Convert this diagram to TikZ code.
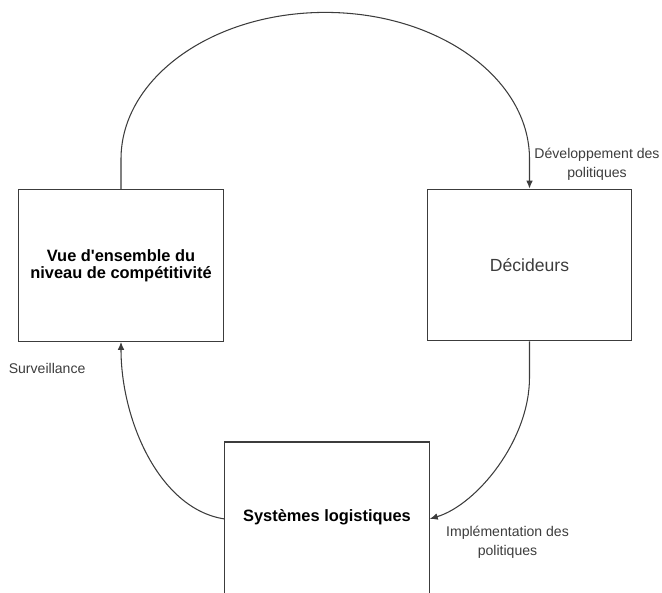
\documentclass[tikz,border=0pt]{standalone}
\usepackage{fontspec}
\setmainfont{Liberation Sans}
\usetikzlibrary{arrows.meta}
\definecolor{inkgray}{HTML}{3C3C3C}
\begin{document}
\begin{tikzpicture}[box/.style={draw=inkgray, line width=1pt, minimum width=6.13cm,
    minimum height=4.55cm, inner sep=0pt, align=center},
  bigtxt/.style={font=\fontsize{14}{14.5}\selectfont\bfseries},
  lbl/.style={font=\fontsize{12}{16}\selectfont, text=inkgray, align=center},
  conn/.style={draw=inkgray, line width=0.9pt, -{Latex[length=2.4mm,width=2mm]}}]
  \useasboundingbox (0,0) rectangle (19.86,17.79);
  \node[box, bigtxt] (vue) at (3.63,9.825) {Vue d\textquotesingle ensemble du\\niveau de compétitivité};
  \node[box, font=\fontsize{15}{18}\selectfont, text=inkgray] (dec) at (15.885,9.84) {Décideurs};
  \node[box, bigtxt, minimum height=0pt, text height=2.4cm, text depth=3cm, anchor=base] (sys)
    at (9.81,2.13) {Systèmes logistiques};
  \node[lbl] (devlbl) at (17.91,12.87) {Développement des\\politiques};
  \node[lbl, anchor=west] (survlbl) at (0.14,6.75) {Surveillance};
  \node[lbl] (implbl) at (15.225,1.515) {Implémentation des\\politiques};
  \draw[conn] (vue.north) -- ++(0,0.9)
    arc[start angle=180, end angle=0, x radius=6.1275cm, y radius=4.4cm] -- (dec.north);
  \draw[conn] (dec.south) -- ++(0,-1.08) .. controls +(0,-1.9) and +(1.4,0.42) .. (sys.mid east);
  \draw[conn] (sys.mid west) .. controls +(-1.95,0.3) and +(0,-2.34) .. (vue.south);
\end{tikzpicture}
\end{document}
